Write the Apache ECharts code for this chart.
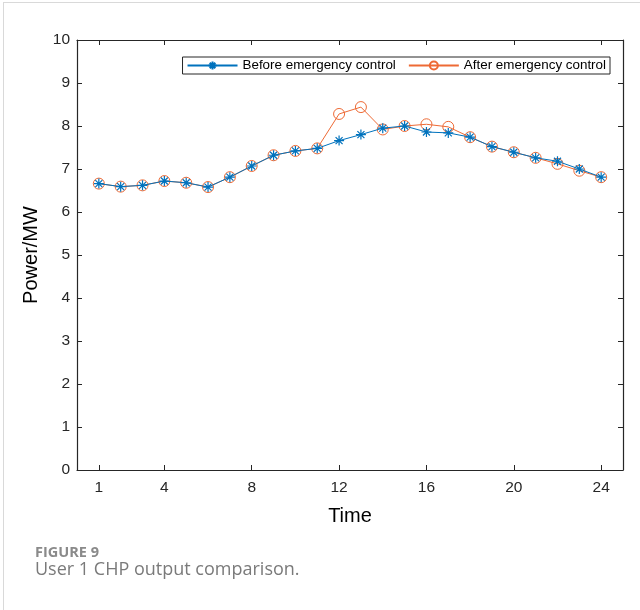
<!DOCTYPE html>
<html lang="en">
<head>
    <meta charset="UTF-8">
    <title>User 1 CHP output comparison</title>
    <style>
        html, body { margin: 0; padding: 0; background: #fff; }
        #box { width: 640px; height: 610px; }
    </style>
</head>
<body>
    <div id="box"></div>
    <script src="https://cdn.jsdelivr.net/npm/echarts@6/dist/echarts.min.js"></script>
    <script>
        // 数据
        var hours = [1, 2, 3, 4, 5, 6, 7, 8, 9, 10, 11, 12, 13, 14, 15, 16, 17, 18, 19, 20, 21, 22, 23, 24];
        var before = [6.66, 6.59, 6.62, 6.72, 6.68, 6.58, 6.81, 7.07, 7.32, 7.42, 7.48, 7.66,
            7.80, 7.95, 8.00, 7.86, 7.84, 7.74, 7.52, 7.39, 7.26, 7.18, 7.00, 6.81];
        var after = [6.66, 6.59, 6.62, 6.72, 6.68, 6.58, 6.81, 7.07, 7.32, 7.42, 7.48, 8.28,
            8.44, 7.92, 8.00, 8.04, 7.98, 7.74, 7.52, 7.39, 7.26, 7.12, 6.96, 6.81];
        var xTicks = [1, 4, 8, 12, 16, 20, 24];

        var blue = '#0072BD';
        var orange = '#EE6A35';
        var star = 'path://M0,-5L0,5M-5,0L5,0M-3.5,-3.5L3.5,3.5M-3.5,3.5L3.5,-3.5';
        var ring = 'path://M5,0A5,5,0,1,1,-5,0A5,5,0,1,1,5,0Z';

        function pairs(vals) {
            return hours.map(function (h, i) { return [h, vals[i]]; });
        }

        var myChart = echarts.init(document.getElementById('box'));
        var axisFont = { color: '#262626', fontSize: 15.5, fontFamily: 'Liberation Sans' };
        var frameLine = { show: true, onZero: false, lineStyle: { color: '#262626', width: 1.2 } };

        var option = {
            animation: false,
            backgroundColor: '#fff',
            grid: { left: 77, right: 17, top: 40, bottom: 140 },
            legend: {
                right: 30, top: 57,
                itemWidth: 50, itemHeight: 10, itemGap: 12,
                padding: [2, 4, 2, 4],
                borderColor: '#262626', borderWidth: 1,
                textStyle: { fontSize: 13.4, color: '#000', fontFamily: 'Liberation Sans' },
                data: ['Before emergency control', 'After emergency control']
            },
            xAxis: [{
                type: 'value', min: 0, max: 25,
                name: 'Time', nameLocation: 'middle', nameGap: 36,
                nameTextStyle: { fontSize: 20, color: '#000', fontFamily: 'Liberation Sans' },
                axisLine: frameLine,
                axisTick: { inside: true, length: 5, customValues: xTicks, lineStyle: { color: '#262626' } },
                axisLabel: Object.assign({ customValues: xTicks, margin: 10 }, axisFont),
                splitLine: { show: false }
            }, {
                type: 'value', min: 0, max: 25, position: 'top',
                axisLine: frameLine,
                axisTick: { inside: true, length: 5, customValues: xTicks, lineStyle: { color: '#262626' } },
                axisLabel: { show: false },
                splitLine: { show: false }
            }],
            yAxis: [{
                type: 'value', min: 0, max: 10, interval: 1,
                name: 'Power/MW', nameLocation: 'middle', nameGap: 32,
                nameTextStyle: { fontSize: 20, color: '#000', fontFamily: 'Liberation Sans' },
                axisLine: frameLine,
                axisTick: { show: true, inside: true, length: 5, lineStyle: { color: '#262626' } },
                axisLabel: Object.assign({ margin: 7 }, axisFont),
                splitLine: { show: false }
            }, {
                type: 'value', min: 0, max: 10, interval: 1, position: 'right',
                axisLine: frameLine,
                axisTick: { show: true, inside: true, length: 5, lineStyle: { color: '#262626' } },
                axisLabel: { show: false },
                splitLine: { show: false }
            }],
            series: [
                {
                    name: 'Before emergency control',
                    type: 'line',
                    data: pairs(before),
                    symbol: star, symbolSize: 10,
                    lineStyle: { color: blue, width: 1 },
                    itemStyle: { color: 'none', borderColor: blue, borderWidth: 1.2 },
                    z: 3
                },
                {
                    name: 'After emergency control',
                    type: 'line',
                    data: pairs(after),
                    symbol: ring, symbolSize: 11,
                    lineStyle: { color: orange, width: 1 },
                    itemStyle: { color: 'none', borderColor: orange, borderWidth: 1 },
                    z: 2
                }
            ],
            graphic: [
                { type: 'rect', shape: { x: 3, y: 2, width: 700, height: 1 }, style: { fill: '#d9d9d9' } },
                { type: 'rect', shape: { x: 3, y: 2, width: 1, height: 700 }, style: { fill: '#d9d9d9' } },
                {
                    type: 'text', left: 35, top: 545,
                    style: { text: 'FIGURE 9', fill: '#8a8a8a', font: 'bold 14.5px "Open Sans"' }
                },
                {
                    type: 'text', left: 35, top: 561,
                    style: { text: 'User 1 CHP output comparison.', fill: '#7a7a7a', font: '18px "Open Sans"' }
                }
            ]
        };

        option && myChart.setOption(option);
    </script>
</body>
</html>
